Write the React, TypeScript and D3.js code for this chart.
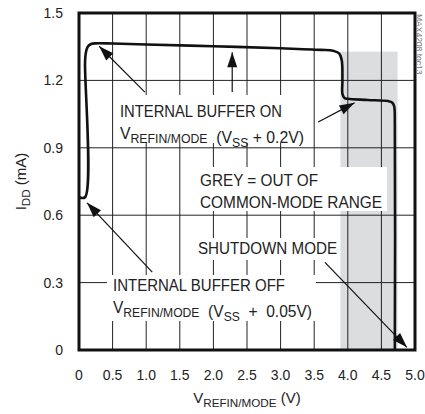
import React from 'react';
import * as d3 from 'd3';

// curve: V_REFIN/MODE (V) vs I_DD (mA)
const vRef = [0, 0.09, 0.09, 0.1, 0.13, 0.18, 0.25, 0.5, 1.0, 2.0, 3.0, 3.6, 3.78, 3.87, 3.91, 3.92, 3.92, 3.95, 4.0, 4.3, 4.6, 4.66, 4.69, 4.7, 4.7];
const iDD = [0.68, 0.68, 1.28, 1.32, 1.35, 1.362, 1.365, 1.364, 1.36, 1.352, 1.343, 1.336, 1.332, 1.32, 1.29, 1.2, 1.14, 1.122, 1.118, 1.113, 1.108, 1.102, 1.085, 1.0, 0];

const xTicks = [0, 0.5, 1.0, 1.5, 2.0, 2.5, 3.0, 3.5, 4.0, 4.5, 5.0];
const yTicks = [0, 0.3, 0.6, 0.9, 1.2, 1.5];

// out of common-mode range band
const greyBand = { x0: 3.89, x1: 4.74, top: 1.328 };

// annotation arrows: tail -> tip in data units
const arrows = [
  { x1: 0.98, y1: 1.148, x2: 0.3, y2: 1.352 },
  { x1: 2.28, y1: 1.148, x2: 2.28, y2: 1.325 },
  { x1: 3.56, y1: 1.015, x2: 4.1, y2: 1.1 },
  { x1: 3.66, y1: 0.39, x2: 4.88, y2: 0.012 },
  { x1: 1.09, y1: 0.347, x2: 0.12, y2: 0.655 },
];

const W = 425;
const H = 414;
const margin = { top: 13, right: 10, bottom: 64, left: 79 };
const FONT = 'Liberation Sans, Arial, Helvetica, sans-serif';

const App: React.FC = () => {
  const x = d3.scaleLinear().domain([0, 5]).range([margin.left, W - margin.right]);
  const y = d3.scaleLinear().domain([0, 1.5]).range([H - margin.bottom, margin.top]);

  const pts: [number, number][] = vRef.map((v, i) => [v, iDD[i]]);
  const line = d3.line<[number, number]>()
    .x(d => x(d[0]))
    .y(d => y(d[1]))
    .curve(d3.curveCatmullRom.alpha(0.5));

  const sub = (s: string) => (
    <tspan fontSize="0.78em" dy={4}>{s}</tspan>
  );
  const unsub = (s: string) => (
    <tspan dy={-4}>{s}</tspan>
  );

  const arrowHead = (a: typeof arrows[0]) => {
    const tx = x(a.x2), ty = y(a.y2);
    const ang = Math.atan2(ty - y(a.y1), tx - x(a.x1));
    const len = 15, half = 5;
    const bx = tx - len * Math.cos(ang), by = ty - len * Math.sin(ang);
    const px = -Math.sin(ang) * half, py = Math.cos(ang) * half;
    return `M${tx},${ty}L${bx + px},${by + py}L${bx - px},${by - py}Z`;
  };

  const fit = { lengthAdjust: 'spacingAndGlyphs' as const };

  return (
    <svg width={W} height={H} style={{ position: 'absolute', left: 0, top: 0, background: '#fff' }} fontFamily={FONT}>
      {/* grey band */}
      <rect x={x(greyBand.x0)} y={y(greyBand.top)} width={x(greyBand.x1) - x(greyBand.x0)} height={y(0) - y(greyBand.top)} fill="#dcdddf" />

      {/* grid */}
      <g stroke="#222" strokeWidth={1}>
        {xTicks.slice(1, -1).map(t => (
          <line key={'gx' + t} x1={x(t)} x2={x(t)} y1={y(0)} y2={y(1.5)} />
        ))}
        {yTicks.slice(1, -1).map(t => (
          <line key={'gy' + t} x1={x(0)} x2={x(5)} y1={y(t)} y2={y(t)} />
        ))}
      </g>

      {/* label backgrounds */}
      <g fill="#fff">
        <rect x={116} y={95} width={192} height={48} />
        <rect x={195} y={167} width={192} height={44} />
        <rect x={194} y={238} width={146} height={22} />
        <rect x={107} y={275} width={209} height={46} />
      </g>

      {/* curve */}
      <path d={line(pts) ?? ''} fill="none" stroke="#111" strokeWidth={2.6} strokeLinejoin="round" />

      {/* arrows */}
      <g stroke="#111" fill="#111">
        {arrows.map((a, i) => (
          <g key={i}>
            <line x1={x(a.x1)} y1={y(a.y1)} x2={x(a.x2)} y2={y(a.y2)} strokeWidth={1.2} />
            <path d={arrowHead(a)} stroke="none" />
          </g>
        ))}
      </g>

      {/* frame */}
      <rect x={x(0)} y={y(1.5)} width={x(5) - x(0)} height={y(0) - y(1.5)} fill="none" stroke="#111" strokeWidth={3} />

      {/* annotation text */}
      <g fontSize={16} fill="#222">
        <text x={120} y={117} textLength={162} {...fit}>INTERNAL BUFFER ON</text>
        <text x={120} y={139} textLength={184} {...fit} xmlSpace="preserve">V{sub('REFIN/MODE')}{unsub('')}{'  (V'}{sub('SS')}{unsub(' + 0.2V)')}</text>
        <text x={200} y={186} textLength={118} {...fit}>GREY = OUT OF</text>
        <text x={200} y={208} textLength={182} {...fit}>COMMON-MODE RANGE</text>
        <text x={198} y={254} textLength={139} {...fit}>SHUTDOWN MODE</text>
        <text x={113} y={291} textLength={172} {...fit}>INTERNAL BUFFER OFF</text>
        <text x={113} y={313} textLength={199} {...fit} xmlSpace="preserve">V{sub('REFIN/MODE')}{unsub('')}{'  (V'}{sub('SS')}{unsub('  +  0.05V)')}</text>
      </g>

      {/* y tick labels */}
      <g fontSize={14} fill="#222" textAnchor="end">
        {yTicks.map(t => (
          <text key={'yt' + t} x={63} y={y(t)} dy="0.35em">{t === 0 ? '0' : t.toFixed(1)}</text>
        ))}
      </g>
      {/* x tick labels */}
      <g fontSize={14} fill="#222" textAnchor="middle">
        {xTicks.map(t => (
          <text key={'xt' + t} x={x(t)} y={380}>{t === 0 ? '0' : t.toFixed(1)}</text>
        ))}
      </g>

      {/* axis titles */}
      <text x={247} y={403} fontSize={15} fill="#222" textAnchor="middle">V{sub('REFIN/MODE')}{unsub(' (V)')}</text>
      <text transform={`translate(26,${(y(0) + y(1.5)) / 2}) rotate(-90)`} fontSize={15} fill="#222" textAnchor="middle">I{sub('DD')}{unsub(' (mA)')}</text>

      {/* figure id */}
      <text transform="translate(416,14) rotate(90)" fontSize={8.5} fill="#777">MAX4208 toc13</text>
    </svg>
  );
};

export default App;
